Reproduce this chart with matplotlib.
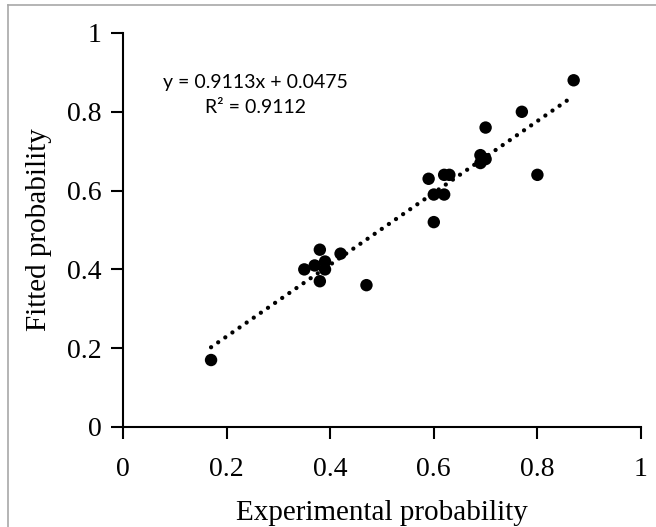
import matplotlib
matplotlib.use("Agg")
import matplotlib.pyplot as plt
from matplotlib.lines import Line2D

# experimental vs fitted probability
experimental = [0.17, 0.35, 0.37, 0.38, 0.39, 0.39, 0.38, 0.42, 0.47,
                0.59, 0.60, 0.60, 0.62, 0.62, 0.63, 0.69, 0.69, 0.70,
                0.70, 0.77, 0.80, 0.87]
fitted = [0.17, 0.40, 0.41, 0.45, 0.42, 0.40, 0.37, 0.44, 0.36,
          0.63, 0.59, 0.52, 0.59, 0.64, 0.64, 0.69, 0.67, 0.68,
          0.76, 0.80, 0.64, 0.88]
slope, intercept = 0.9113, 0.0475
r2 = 0.9112
ticks = [0, 0.2, 0.4, 0.6, 0.8, 1]
tick_labels = ["0", "0.2", "0.4", "0.6", "0.8", "1"]

serif = "Liberation Serif"

fig = plt.figure(figsize=(6.56, 5.27), dpi=100)
ax = fig.add_axes([123 / 656, 100 / 527, 518 / 656, 394 / 527])

# trendline over the data range
x0, x1 = min(experimental), max(experimental)
ax.plot([x0, x1], [slope * x0 + intercept, slope * x1 + intercept],
        color="black", lw=3.1, linestyle=(0, (0.01, 2.0)),
        dash_capstyle="round", zorder=2)
ax.scatter(experimental, fitted, s=80, color="black", edgecolors="none",
           zorder=3)

ax.set_xlim(0, 1)
ax.set_ylim(0, 1)
ax.set_xticks(ticks)
ax.set_xticklabels(tick_labels)
ax.set_yticks(ticks)
ax.set_yticklabels(tick_labels)
for s in ("top", "right"):
    ax.spines[s].set_visible(False)
for s in ("left", "bottom"):
    ax.spines[s].set_linewidth(1.5)
ax.tick_params(axis="both", direction="out", length=8.5, width=1.5,
               labelsize=20)
ax.tick_params(axis="x", pad=13)
ax.tick_params(axis="y", pad=7)
for lab in ax.get_xticklabels() + ax.get_yticklabels():
    lab.set_fontfamily(serif)

ax.set_xlabel("Experimental probability", fontsize=21, fontfamily=serif)
ax.set_ylabel("Fitted probability", fontsize=21, fontfamily=serif)
ax.xaxis.set_label_coords(0.5, -0.185)
ax.yaxis.set_label_coords(-0.137, 0.5)

ax.text(0.255, 0.860, f"y = {slope}x + {intercept}", transform=ax.transAxes,
        ha="center", va="baseline", fontsize=14, fontfamily="Lato")
ax.text(0.255, 0.797, f"R\u00b2 = {r2}", transform=ax.transAxes,
        ha="center", va="baseline", fontsize=14, fontfamily="Lato")

# thin grey frame along top and left edge of the picture
fx, fy = 8 / 656, 1 - 5 / 527
fig.add_artist(Line2D([fx, 1], [fy, fy], color="#a8a8a8", lw=1.2,
                      transform=fig.transFigure))
fig.add_artist(Line2D([fx, fx], [0, fy], color="#a8a8a8", lw=1.2,
                      transform=fig.transFigure))

fig.savefig("out.png", dpi=100)
